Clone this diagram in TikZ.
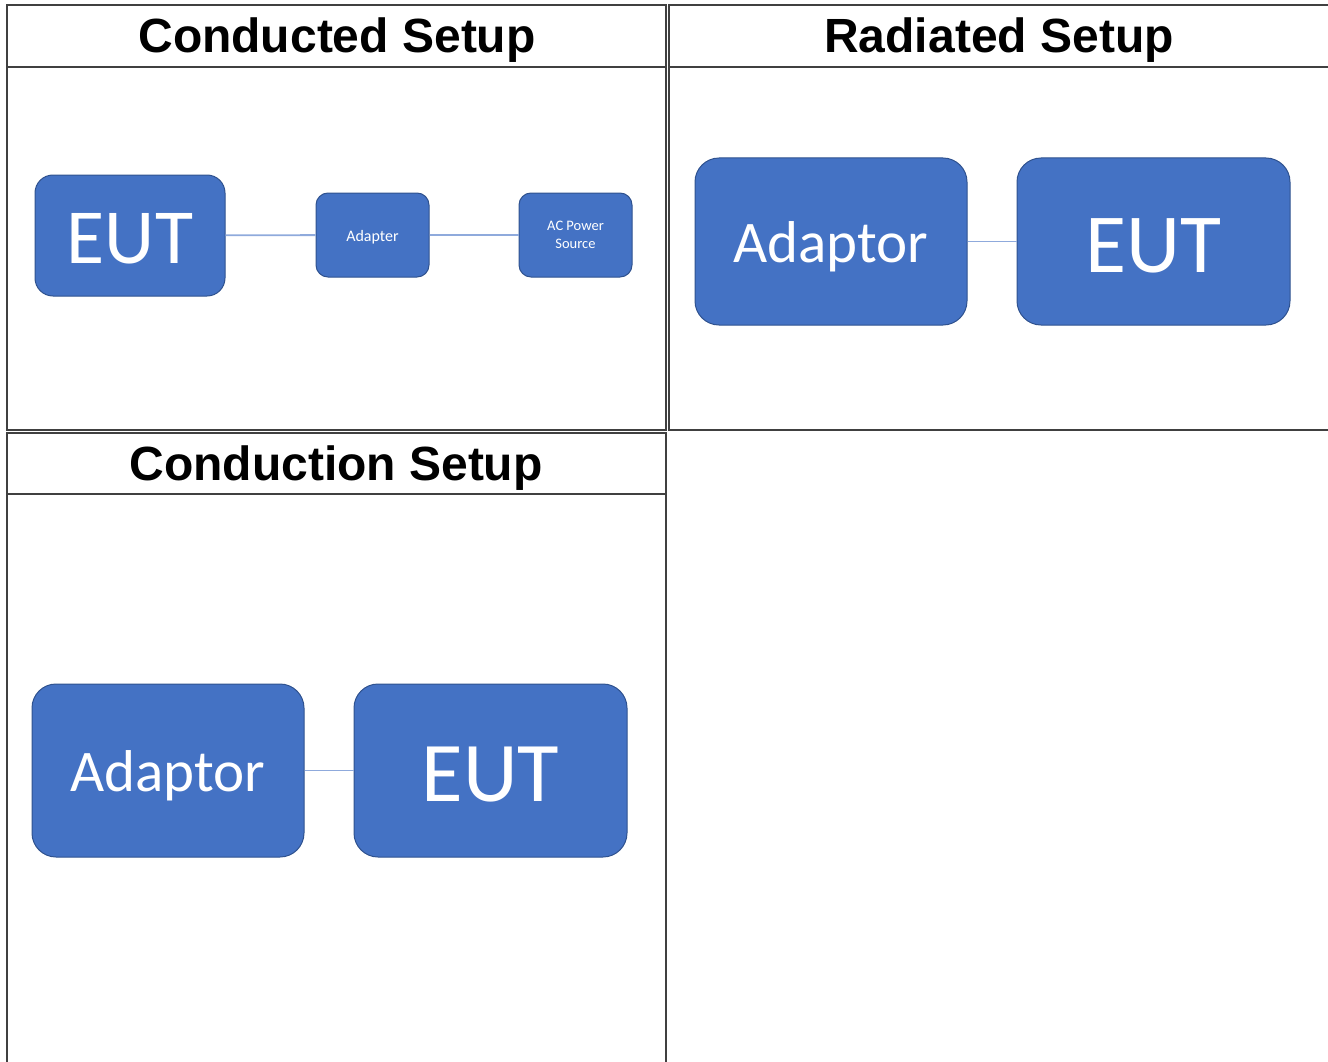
\documentclass[tikz,border=0pt]{standalone}
\usepackage{fontspec}
\setmainfont{Liberation Sans}
\newfontfamily\boxfont{Carlito}
\definecolor{boxblue}{HTML}{4472C4}
\definecolor{boxedge}{HTML}{2F528F}
\definecolor{wire}{HTML}{8FAADC}
\definecolor{rulegray}{HTML}{404040}
\begin{document}
\begin{tikzpicture}[x=1pt,y=-1pt,
  rule/.style={draw=rulegray, line width=2.4pt},
  title/.style={font=\bfseries\fontsize{48}{48}\selectfont, inner sep=0pt},
  unit/.style={fill=boxblue, draw=boxedge, line width=1pt, text=white,
    inner sep=0pt, align=center},
  wire/.style={draw=wire, line width=1.8pt}]
\useasboundingbox (0,0) rectangle (1328,1062);

% table grid
\draw[rule] (7,5) rectangle (666,430);
\draw[rule] (7,67) -- (666,67);
\draw[rule] (1328,5) -- (669,5) -- (669,430) -- (1328,430);
\draw[rule] (669,67) -- (1328,67);
\draw[rule] (7,1062) -- (7,433) -- (666,433) -- (666,1062);
\draw[rule] (7,494) -- (666,494);

% headings
\node[title] (t1) at (337,40) {Conducted Setup};
\node[title] (t2) at (999,40) {Radiated Setup};
\node[title] (t3) at (336,468) {Conduction Setup};

% conducted setup
\node[unit, minimum width=190pt, minimum height=121pt, rounded corners=18pt,
  text height=55pt, text depth=0pt,
  font=\boxfont\fontsize{78}{78}\selectfont] (ceut) at (130,235.5) {EUT};
\node[unit, minimum width=113pt, minimum height=84pt, rounded corners=12pt,
  text height=13pt, text depth=0pt,
  font=\boxfont\fontsize{16}{18}\selectfont] (cadp) at (372.5,235) {Adapter};
\node[unit, minimum width=113pt, minimum height=84pt, rounded corners=12pt,
  font=\boxfont\fontsize{14.5}{18}\selectfont] (cac) at (575.5,235) {AC Power\\Source};
\draw[wire] (ceut) -- (cadp);
\draw[wire] (cadp) -- (cac);

% radiated setup
\node[unit, minimum width=272pt, minimum height=167pt, rounded corners=24pt,
  text height=41pt, text depth=0pt,
  font=\boxfont\fontsize{59}{59}\selectfont] (radp) at (831,241.5) {Adaptor};
\node[unit, minimum width=273pt, minimum height=167pt, rounded corners=24pt,
  text height=62pt, text depth=0pt,
  font=\boxfont\fontsize{84}{84}\selectfont] (reut) at (1153.5,241.5) {EUT};
\draw[wire] (radp) -- (reut);

% conduction setup
\node[unit, minimum width=272pt, minimum height=173pt, rounded corners=24pt,
  text height=41pt, text depth=0pt,
  font=\boxfont\fontsize{59}{59}\selectfont] (kadp) at (168,770.5) {Adaptor};
\node[unit, minimum width=273pt, minimum height=173pt, rounded corners=24pt,
  text height=62pt, text depth=0pt,
  font=\boxfont\fontsize{85}{85}\selectfont] (keut) at (490.5,770.5) {EUT};
\draw[wire] (kadp) -- (keut);
\end{tikzpicture}
\end{document}
